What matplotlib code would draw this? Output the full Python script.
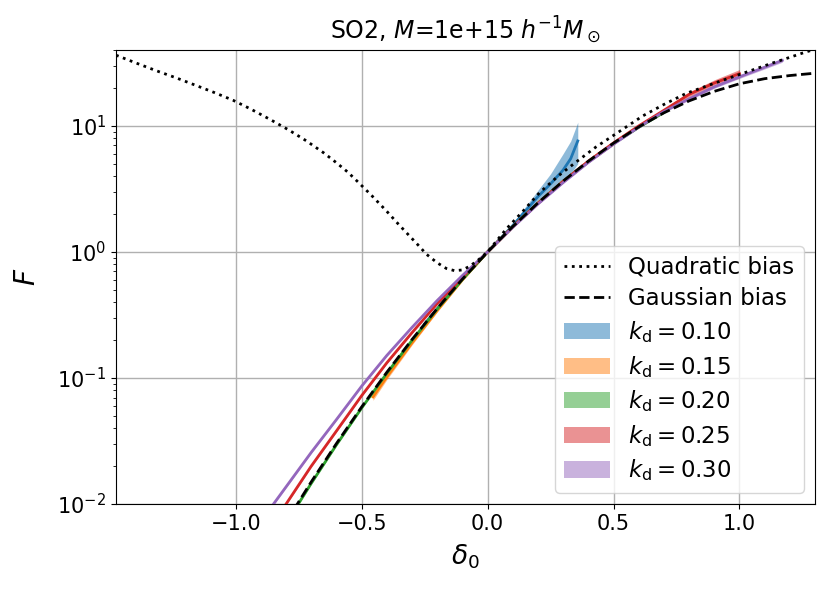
import matplotlib
matplotlib.use("Agg")
import matplotlib.pyplot as plt
import numpy as np

# ---------------- data ----------------
quad_delta = [-1.475, -1.40, -1.315, -1.235, -1.159, -1.085, -1.011, -0.94, -0.865, -0.79,
              -0.719, -0.65, -0.60, -0.555, -0.515, -0.46, -0.402, -0.355, -0.31, -0.275,
              -0.243, -0.20, -0.164, -0.131, -0.10, -0.071, -0.035, 0.0, 0.074, 0.14,
              0.206, 0.28, 0.352, 0.43, 0.511, 0.616, 0.70, 0.788, 0.90, 1.013,
              1.13, 1.20, 1.265, 1.30]
quad_F = [36.4, 31.8, 27.4, 24.0, 21.0, 18.4, 16.0, 13.6, 11.3, 9.3,
          7.6, 6.1, 5.1, 4.3, 3.6, 2.8, 2.12, 1.67, 1.34, 1.13,
          0.96, 0.82, 0.74, 0.71, 0.72, 0.77, 0.87, 1.0, 1.52, 2.1,
          2.95, 4.0, 5.18, 6.8, 8.7, 12.0, 14.8, 18.1, 21.8, 26.1,
          31.5, 35.0, 38.7, 40.5]

gauss_delta = [-0.80, -0.76, -0.70, -0.60, -0.50, -0.40, -0.30, -0.20, -0.10, 0.0, 0.10, 0.20,
               0.30, 0.40, 0.50, 0.60, 0.70, 0.80, 0.90, 1.00, 1.10, 1.20, 1.30]
gauss_F = [0.00718, 0.00966, 0.0150, 0.0302, 0.0589, 0.111, 0.202, 0.356, 0.608, 1.0, 1.59, 2.45,
           3.65, 5.25, 7.30, 9.82, 12.7, 15.8, 18.8, 21.6, 23.7, 25.1, 26.2]

kd_labels = ["0.10", "0.15", "0.20", "0.25", "0.30"]

kd010_delta = [-0.25, -0.20, -0.10, 0.0, 0.10, 0.20, 0.25, 0.30, 0.33, 0.358]
kd010_F = [0.269, 0.355, 0.61, 1.0, 1.62, 2.75, 3.47, 4.47, 5.5, 7.6]
kd010_lo = [0.263, 0.347, 0.603, 0.989, 1.567, 2.57, 3.09, 3.63, 4.17, 5.01]
kd010_hi = [0.275, 0.363, 0.617, 1.01, 1.68, 3.09, 4.17, 6.03, 7.59, 10.7]

kd015_delta = [-0.455, -0.40, -0.30, -0.20, -0.10, 0.0, 0.10, 0.20, 0.30, 0.40, 0.50]
kd015_F = [0.0708, 0.102, 0.19, 0.343, 0.60, 1.0, 1.58, 2.44, 3.62, 5.2, 7.2]
kd015_lo = [0.0665, 0.097, 0.183, 0.334, 0.59, 0.99, 1.56, 2.41, 3.57, 5.12, 7.08]
kd015_hi = [0.0752, 0.107, 0.197, 0.352, 0.61, 1.01, 1.60, 2.47, 3.67, 5.28, 7.32]

kd020_delta = [-0.80, -0.76, -0.70, -0.60, -0.50, -0.40, -0.30, -0.20, -0.10, 0.0, 0.10, 0.20,
               0.30, 0.40, 0.50, 0.60, 0.70]
kd020_F = [0.0070, 0.0094, 0.0146, 0.0295, 0.0578, 0.109, 0.199, 0.352, 0.605, 1.0, 1.59, 2.44,
           3.63, 5.2, 7.25, 9.75, 12.8]
kd020_lo = [0.0068, 0.0092, 0.0143, 0.0290, 0.0570, 0.1075, 0.197, 0.349, 0.601, 0.995, 1.58, 2.42,
            3.60, 5.15, 7.17, 9.62, 12.6]
kd020_hi = [0.0072, 0.0096, 0.0149, 0.0300, 0.0586, 0.1105, 0.201, 0.355, 0.609, 1.005, 1.60, 2.46,
            3.66, 5.25, 7.33, 9.88, 13.0]

kd025_delta = [-0.85, -0.80, -0.70, -0.60, -0.50, -0.40, -0.30, -0.20, -0.10, 0.0, 0.10, 0.20,
               0.30, 0.40, 0.50, 0.60, 0.70, 0.80, 0.90, 1.00]
kd025_F = [0.0071, 0.0100, 0.0200, 0.0380, 0.0724, 0.132, 0.229, 0.389, 0.631, 1.0, 1.585, 2.43,
           3.63, 5.25, 7.33, 10.0, 13.3, 17.8, 21.9, 26.0]
kd025_lo = [0.0069, 0.0098, 0.0196, 0.0373, 0.0713, 0.130, 0.226, 0.385, 0.626, 0.995, 1.575, 2.41,
            3.59, 5.18, 7.22, 9.8, 12.9, 17.0, 20.6, 24.0]
kd025_hi = [0.0073, 0.0102, 0.0204, 0.0387, 0.0735, 0.134, 0.232, 0.393, 0.636, 1.005, 1.595, 2.45,
            3.67, 5.32, 7.44, 10.2, 13.7, 18.6, 23.2, 28.0]

kd030_delta = [-0.90, -0.85, -0.70, -0.60, -0.50, -0.40, -0.30, -0.20, -0.10, 0.0, 0.10, 0.20,
               0.30, 0.40, 0.50, 0.60, 0.70, 0.80, 0.90, 1.00, 1.10, 1.17]
kd030_F = [0.0074, 0.0100, 0.0257, 0.0468, 0.0861, 0.151, 0.252, 0.412, 0.650, 1.0, 1.567, 2.40,
           3.55, 5.13, 7.16, 9.77, 13.0, 16.4, 20.4, 24.5, 29.2, 33.1]
kd030_lo = [0.0072, 0.0098, 0.0253, 0.0462, 0.0852, 0.149, 0.250, 0.409, 0.646, 0.995, 1.56, 2.38,
            3.52, 5.08, 7.08, 9.63, 12.8, 16.0, 19.9, 23.8, 28.3, 32.0]
kd030_hi = [0.0076, 0.0102, 0.0261, 0.0474, 0.0870, 0.153, 0.254, 0.415, 0.654, 1.005, 1.574, 2.42,
            3.58, 5.18, 7.24, 9.91, 13.2, 16.8, 20.9, 25.2, 30.1, 34.2]

kd_delta = [kd010_delta, kd015_delta, kd020_delta, kd025_delta, kd030_delta]
kd_F = [kd010_F, kd015_F, kd020_F, kd025_F, kd030_F]
kd_lo = [kd010_lo, kd015_lo, kd020_lo, kd025_lo, kd030_lo]
kd_hi = [kd010_hi, kd015_hi, kd020_hi, kd025_hi, kd030_hi]
kd_colors = ["tab:blue", "tab:orange", "tab:green", "tab:red", "tab:purple"]

# ---------------- figure ----------------
fig = plt.figure(figsize=(8.30, 5.92), dpi=100)
ax = fig.add_axes([0.1398, 0.1486, 0.8422, 0.7669])

handles = []
l1, = ax.plot(quad_delta, quad_F, color="k", ls=":", lw=2, zorder=5, label="Quadratic bias")
l2, = ax.plot(gauss_delta, gauss_F, color="k", ls="--", lw=2, zorder=5, label="Gaussian bias")
handles += [l1, l2]
for d, f, lo, hi, c, lab in zip(kd_delta, kd_F, kd_lo, kd_hi, kd_colors, kd_labels):
    p = ax.fill_between(d, lo, hi, color=c, alpha=0.5, lw=0,
                        label=r"$k_\mathrm{d}=" + lab + "$", zorder=2)
    ax.plot(d, f, color=c, lw=2, zorder=3)
    handles.append(p)

ax.set_yscale("log")
ax.set_xlim(-1.475, 1.3)
ax.set_ylim(1e-2, 40)
ax.grid(True, which="major", color="#b0b0b0", lw=1)
ax.tick_params(labelsize=15)
ax.set_xlabel(r"$\delta_0$", fontsize=19, labelpad=6)
ax.set_ylabel(r"$F$", fontsize=20, labelpad=12)
ax.set_title(r"SO2, $M$=1e+15 $h^{-1}M_\odot$", fontsize=17, pad=8)
ax.legend(handles=handles, loc="lower right", fontsize=16.5, labelspacing=0.38)

fig.savefig("out.png", dpi=100)
